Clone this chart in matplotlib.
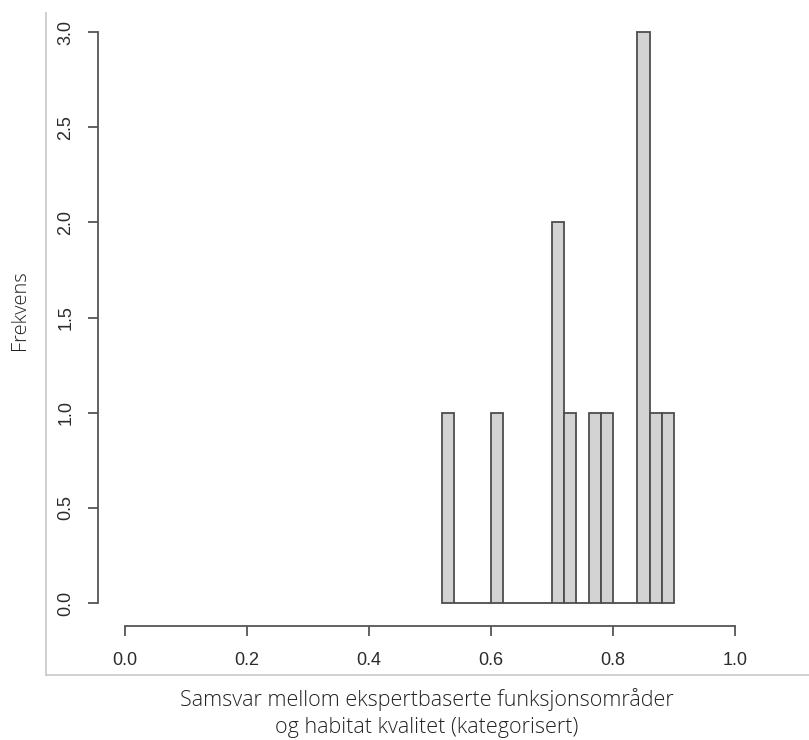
import matplotlib
matplotlib.use("Agg")
import matplotlib.pyplot as plt
from matplotlib.lines import Line2D

# Histogram data (bin left edges, width 0.02) and counts
bin_edges = [0.52, 0.54, 0.56, 0.58, 0.60, 0.62, 0.64, 0.66, 0.68, 0.70,
             0.72, 0.74, 0.76, 0.78, 0.80, 0.82, 0.84, 0.86, 0.88, 0.90]
counts = [1, 0, 0, 0, 1, 0, 0, 0, 0, 2, 1, 0, 1, 1, 0, 0, 3, 1, 1]
x_ticks = [0.0, 0.2, 0.4, 0.6, 0.8, 1.0]
x_ticklabels = ["0.0", "0.2", "0.4", "0.6", "0.8", "1.0"]
y_ticks = [0.0, 0.5, 1.0, 1.5, 2.0, 2.5, 3.0]
y_ticklabels = ["0.0", "0.5", "1.0", "1.5", "2.0", "2.5", "3.0"]
x_title = "Samsvar mellom ekspertbaserte funksjonsområder\nog habitat kvalitet (kategorisert)"
y_title = "Frekvens"

W, H = 809, 740
fig = plt.figure(figsize=(W / 100, H / 100), dpi=100)
fig.patch.set_facecolor("white")

# plot region (R style: usr extends 4%)
left_px, right_px = 100.6, 759.4
top_px, bottom_px = 9.2, 625.8
ax = fig.add_axes([left_px / W, 1 - bottom_px / H,
                   (right_px - left_px) / W, (bottom_px - top_px) / H])
ax.set_xlim(-0.04, 1.04)
ax.set_ylim(-0.12, 3.12)
ax.patch.set_alpha(0)

widths = [bin_edges[i + 1] - bin_edges[i] for i in range(len(counts))]
ax.bar(bin_edges[:-1], counts, width=widths, align="edge",
       color="#d3d3d3", edgecolor="#4d4d4d", linewidth=1.3, zorder=2)

for s in ["top", "right"]:
    ax.spines[s].set_visible(False)
ax.spines["left"].set_bounds(0, 3)
ax.spines["bottom"].set_bounds(0, 1)
for s in ["left", "bottom"]:
    ax.spines[s].set_color("#555555")
    ax.spines[s].set_linewidth(1.3)
ax.spines["left"].set_position(("outward", 2))

ax.set_xticks(x_ticks)
ax.set_xticklabels(x_ticklabels, fontfamily="Liberation Sans", fontsize=13,
                   color="#2b2b2b")
ax.set_yticks(y_ticks)
ax.set_yticklabels(y_ticklabels, fontfamily="Liberation Sans", fontsize=13,
                   color="#2b2b2b", rotation=90, va="center")
ax.tick_params(axis="both", length=7, width=1.3, color="#555555")
ax.tick_params(axis="x", pad=12)
ax.tick_params(axis="y", pad=10)

# Gray frame of the embedded image
fig.add_artist(Line2D([46 / W, 46 / W], [1 - 13 / H, 1 - 675 / H],
                      color="#c8c8c8", linewidth=1.2))
fig.add_artist(Line2D([46 / W, 1.0], [1 - 675 / H, 1 - 675 / H],
                      color="#c8c8c8", linewidth=1.2))

# axis titles
fig.text(427 / W, 1 - 713 / H, x_title, ha="center", va="center",
         fontfamily="Open Sans", fontweight="light", fontsize=15.5,
         color="#222222", linespacing=1.38)
fig.text(20 / W, 1 - 310 / H, y_title, ha="center", va="center", rotation=90,
         fontfamily="Open Sans", fontweight="light", fontsize=14.5, color="#222222")

fig.savefig("out.png", dpi=100)
